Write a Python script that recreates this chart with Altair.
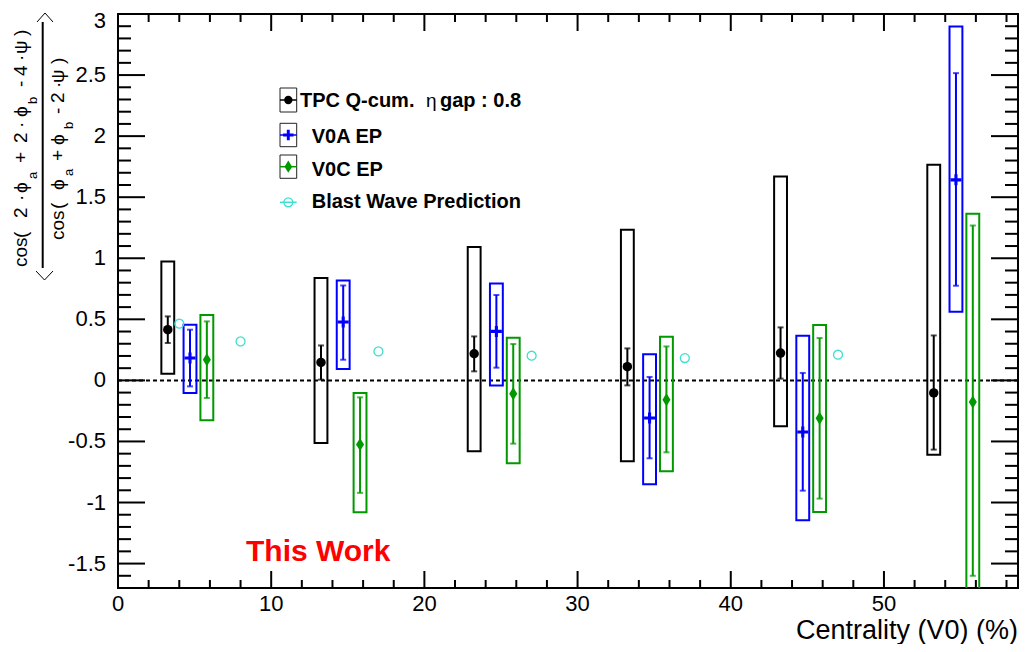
import altair as alt
import pandas as pd
import numpy as np

W, H = 900, 574
XMAX, YMIN, YMAX = 58.75, -1.7, 3.0
FONT = "Liberation Sans"

# ---------------- data ----------------
tpc_x = [3.25, 13.25, 23.25, 33.25, 43.25, 53.25]
tpc_y = [0.415, 0.147, 0.218, 0.112, 0.224, -0.103]
tpc_stat_lo = [0.306, 0.006, 0.074, -0.041, 0.014, -0.567]
tpc_stat_hi = [0.524, 0.286, 0.360, 0.262, 0.434, 0.368]
tpc_sys_lo = [0.055, -0.512, -0.581, -0.663, -0.376, -0.608]
tpc_sys_hi = [0.974, 0.838, 1.092, 1.233, 1.669, 1.765]

v0a_x = [4.7, 14.7, 24.7, 34.7, 44.7, 54.7]
v0a_y = [0.183, 0.478, 0.401, -0.308, -0.422, 1.642]
v0a_stat_lo = [-0.049, 0.169, 0.104, -0.638, -0.903, 0.775]
v0a_stat_hi = [0.415, 0.777, 0.699, 0.028, 0.061, 2.516]
v0a_sys_lo = [-0.103, 0.093, -0.041, -0.851, -1.146, 0.562]
v0a_sys_hi = [0.456, 0.818, 0.794, 0.213, 0.366, 2.897]

v0c_x = [5.8, 15.8, 25.8, 35.8, 45.8, 55.8]
v0c_y = [0.169, -0.526, -0.109, -0.158, -0.311, -0.177]
v0c_stat_lo = [-0.144, -0.921, -0.518, -0.589, -0.968, -1.60]
v0c_stat_hi = [0.483, -0.139, 0.298, 0.278, 0.347, 1.268]
v0c_sys_lo = [-0.327, -1.080, -0.679, -0.745, -1.077, -1.75]
v0c_sys_hi = [0.535, -0.103, 0.349, 0.358, 0.453, 1.364]

bw_x = [4, 8, 17, 27, 37, 47]
bw_y = [0.464, 0.319, 0.237, 0.202, 0.183, 0.210]

y_major = [-1.5, -1.0, -0.5, 0.0, 0.5, 1.0, 1.5, 2.0, 2.5, 3.0]
y_labels = ["-1.5", "-1", "-0.5", "0", "0.5", "1", "1.5", "2", "2.5", "3"]
y_minor = [round(v, 1) for v in np.arange(-1.7, 3.001, 0.1)
           if all(abs(round(v, 1) - m) > 1e-6 for m in y_major)]
x_major = [0, 10, 20, 30, 40, 50]
x_labels = ["0", "10", "20", "30", "40", "50"]
x_minor = [v for v in range(2, 59, 2) if v % 10 != 0]

HALF = 0.42  # half width of systematic boxes (x units)

xs = alt.Scale(domain=[0, XMAX], nice=False, zero=False)
ys = alt.Scale(domain=[YMIN, YMAX], nice=False, zero=False)

BLACK, BLUE, GREEN, CYAN, RED = "#000000", "#0000ff", "#009900", "#3ddfd0", "#ff0000"

one = pd.DataFrame({"k": [0]})


def series_df(x, y, slo, shi, blo, bhi):
    return pd.DataFrame({
        "x": x, "y": y, "slo": slo, "shi": shi,
        "xl": [v - HALF for v in x], "xr": [v + HALF for v in x],
        "blo": blo, "bhi": bhi,
    })


DIAMOND = "M0,-1L0.62,0L0,1L-0.62,0Z"
PLUS = ("M-1,-0.28L-0.28,-0.28L-0.28,-1L0.28,-1L0.28,-0.28L1,-0.28L1,0.28"
        "L0.28,0.28L0.28,1L-0.28,1L-0.28,0.28L-1,0.28Z")

layers = []


def series_layers(df, color, shape, size, box_w=2, err_w=2):
    base = alt.Chart(df)
    out = []
    out.append(base.mark_rect(fillOpacity=0, stroke=color, strokeWidth=box_w, clip=True).encode(
        x=alt.X("xl:Q", scale=xs, axis=None), x2="xr:Q",
        y=alt.Y("blo:Q", scale=ys, axis=None), y2="bhi:Q"))
    out.append(base.mark_rule(color=color, strokeWidth=err_w, clip=True).encode(
        x=alt.X("x:Q", scale=xs, axis=None),
        y=alt.Y("slo:Q", scale=ys, axis=None), y2="shi:Q"))
    for f in ["slo", "shi"]:
        out.append(base.mark_tick(color=color, orient="horizontal", size=6, thickness=2, clip=True).encode(
            x=alt.X("x:Q", scale=xs, axis=None),
            y=alt.Y(f + ":Q", scale=ys, axis=None)))
    out.append(base.mark_point(shape=shape, filled=True, color=color, size=size, opacity=1).encode(
        x=alt.X("x:Q", scale=xs, axis=None),
        y=alt.Y("y:Q", scale=ys, axis=None)))
    return out


# ---------------- ticks & tick labels ----------------
ymaj = pd.DataFrame({"v": y_major, "lab": y_labels})
ymin_ = pd.DataFrame({"v": y_minor})
xmaj = pd.DataFrame({"v": x_major, "lab": x_labels})
xmin_ = pd.DataFrame({"v": x_minor})

for x0, x1 in [(0, 27), (W - 27, W)]:
    layers.append(alt.Chart(ymaj).mark_rule(color=BLACK, strokeWidth=2).encode(
        y=alt.Y("v:Q", scale=ys, axis=None), x=alt.value(x0), x2=alt.value(x1)))
for x0, x1 in [(0, 13), (W - 13, W)]:
    layers.append(alt.Chart(ymin_).mark_rule(color=BLACK, strokeWidth=2).encode(
        y=alt.Y("v:Q", scale=ys, axis=None), x=alt.value(x0), x2=alt.value(x1)))
for y0, y1 in [(H, H - 17), (0, 17)]:
    layers.append(alt.Chart(xmaj).mark_rule(color=BLACK, strokeWidth=2).encode(
        x=alt.X("v:Q", scale=xs, axis=None), y=alt.value(y0), y2=alt.value(y1)))
for y0, y1 in [(H, H - 8), (0, 8)]:
    layers.append(alt.Chart(xmin_).mark_rule(color=BLACK, strokeWidth=2).encode(
        x=alt.X("v:Q", scale=xs, axis=None), y=alt.value(y0), y2=alt.value(y1)))

# y tick labels (the top one placed by its baseline so it stays inside the page)
layers.append(alt.Chart(ymaj[ymaj["v"] < 3]).mark_text(align="right", baseline="middle", font=FONT,
                                                       fontSize=22, color=BLACK).encode(
    y=alt.Y("v:Q", scale=ys, axis=None), x=alt.value(-12), text="lab:N"))
layers.append(alt.Chart(ymaj[ymaj["v"] >= 3]).mark_text(align="right", baseline="alphabetic", font=FONT,
                                                        fontSize=22, color=BLACK, dy=14).encode(
    y=alt.Y("v:Q", scale=ys, axis=None), x=alt.value(-12), text="lab:N"))
layers.append(alt.Chart(xmaj).mark_text(align="center", baseline="middle", font=FONT,
                                        fontSize=22, color=BLACK).encode(
    x=alt.X("v:Q", scale=xs, axis=None), y=alt.value(H + 15.5), text="lab:N"))

# zero dashed line
layers.append(alt.Chart(pd.DataFrame({"v": [0.0]})).mark_rule(
    color=BLACK, strokeWidth=2, strokeDash=[4, 3]).encode(
    y=alt.Y("v:Q", scale=ys, axis=None), x=alt.value(0), x2=alt.value(W)))

# ---------------- data series ----------------
layers += series_layers(series_df(tpc_x, tpc_y, tpc_stat_lo, tpc_stat_hi, tpc_sys_lo, tpc_sys_hi),
                        BLACK, "circle", 90)
layers += series_layers(series_df(v0a_x, v0a_y, v0a_stat_lo, v0a_stat_hi, v0a_sys_lo, v0a_sys_hi),
                        BLUE, PLUS, 121)
layers += series_layers(series_df(v0c_x, v0c_y, v0c_stat_lo, v0c_stat_hi, v0c_sys_lo, v0c_sys_hi),
                        GREEN, DIAMOND, 169)

layers.append(alt.Chart(pd.DataFrame({"x": bw_x, "y": bw_y})).mark_point(
    shape="circle", filled=False, color=CYAN, strokeWidth=1.3, size=80, opacity=1).encode(
    x=alt.X("x:Q", scale=xs, axis=None), y=alt.Y("y:Q", scale=ys, axis=None)))


# ---------------- legend ----------------
def txt(text, x, y, size=20, weight="bold", color=BLACK, align="left", angle=None,
        baseline="alphabetic", font=FONT):
    kw = dict(text=text, align=align, baseline=baseline, font=font, fontSize=size,
              fontWeight=weight, color=color)
    if angle is not None:
        kw["angle"] = angle
    return alt.Chart(one).mark_text(**kw).encode(x=alt.value(x), y=alt.value(y))


LX0, LX1, LXC = 162, 178.7, 170.3
legend_rows = [  # (box top, box bottom, marker y)
    (74, 98, 86), (109.3, 132.7, 121), (141, 164.3, 152.7), (None, None, 188.3)]
leg_colors = [BLACK, BLUE, GREEN, CYAN]
leg_shapes = ["circle", PLUS, DIAMOND, "circle"]
leg_sizes = [70, 110, 150, 80]
for (t, b, m), c, s, z in zip(legend_rows, leg_colors, leg_shapes, leg_sizes):
    if t is not None:
        layers.append(alt.Chart(one).mark_rect(fillOpacity=0, stroke="#222222", strokeWidth=1).encode(
            x=alt.value(LX0), x2=alt.value(LX1), y=alt.value(t), y2=alt.value(b)))
    layers.append(alt.Chart(one).mark_rule(color=c, strokeWidth=1.5).encode(
        x=alt.value(LX0), x2=alt.value(LX1), y=alt.value(m)))
    filled = c != CYAN
    layers.append(alt.Chart(one).mark_point(shape=s, filled=filled, color=c, size=z, opacity=1,
                                            strokeWidth=1.3).encode(
        x=alt.value(LXC), y=alt.value(m)))

layers.append(txt("TPC Q-cum.", 182, 93))
layers.append(txt("η", 308, 93, size=19, weight="normal"))
layers.append(txt("gap : 0.8", 322, 93))
layers.append(txt("V0A EP", 193.7, 129.3))
layers.append(txt("V0C EP", 193.7, 161.7))
layers.append(txt("Blast Wave Prediction", 193.7, 194.3))

# "This Work"
layers.append(txt("This Work", 128, 547, size=30, color=RED))

# x title
layers.append(txt("Centrality (V0) (%)", W, 625, size=27, weight="normal", align="right"))

# ---------------- y title (rotated fraction, ROOT TLatex style) ----------------
OX, OY = 118, 14  # image pixel -> plot pixel offset
NB, NS, DB, DS = 27, 37, 64, 73  # baselines (image x) for numerator / subscripts / denominator
num_tok = ["cos", "(", "2", "·", "ϕ", "+", "2", "·", "ϕ", "-", "4", "·", "ψ", ")"]
num_pos = [267, 238, 218, 201, 193, 163, 143, 128, 117, 87, 76, 61, 54, 36]
num_sub = ["a", "b"]
num_sub_pos = [179, 104]
den_tok = ["cos", "(", "ϕ", "+", "ϕ", "-", "2", "·", "ψ", ")"]
den_pos = [240, 209, 190, 161, 145, 114, 103, 88, 83, 64]
den_sub = ["a", "b"]
den_sub_pos = [176, 129]

tok = pd.DataFrame({
    "t": num_tok + den_tok,
    "px": [NB - OX] * len(num_tok) + [DB - OX] * len(den_tok),
    "py": [p - OY for p in num_pos + den_pos],
})
sub = pd.DataFrame({
    "t": num_sub + den_sub,
    "px": [NS - OX] * 2 + [DS - OX] * 2,
    "py": [p - OY for p in num_sub_pos + den_sub_pos],
})
layers.append(alt.Chart(tok).mark_text(angle=270, align="left", baseline="alphabetic",
                                       font=FONT, fontSize=19, color=BLACK).encode(
    x=alt.X("px:Q", scale=None, axis=None), y=alt.Y("py:Q", scale=None, axis=None), text="t:N"))
layers.append(alt.Chart(sub).mark_text(angle=270, align="left", baseline="alphabetic",
                                       font=FONT, fontSize=13, color=BLACK).encode(
    x=alt.X("px:Q", scale=None, axis=None), y=alt.Y("py:Q", scale=None, axis=None), text="t:N"))
# fraction bar
layers.append(alt.Chart(one).mark_rule(color=BLACK, strokeWidth=2).encode(
    x=alt.value(42.7 - OX), y=alt.value(22 - OY), y2=alt.value(268 - OY)))
# angle brackets drawn as thin chevrons
br = pd.DataFrame({
    "g": ["b", "b", "b", "t", "t", "t"],
    "o": [0, 1, 2, 0, 1, 2],
    "px": [p - OX for p in [36, 44.5, 53, 37, 45, 53]],
    "py": [p - OY for p in [271, 280, 271, 22, 13, 22]],
})
layers.append(alt.Chart(br).mark_line(color=BLACK, strokeWidth=1).encode(
    x=alt.X("px:Q", scale=None, axis=None), y=alt.Y("py:Q", scale=None, axis=None),
    detail="g:N", order="o:Q"))

chart = alt.layer(*layers).properties(
    width=W, height=H,
    autosize=alt.AutoSizeParams(type="none"),
    padding={"left": 110, "top": 6, "right": 5, "bottom": 56},
    background="white",
).configure_view(stroke=BLACK, strokeWidth=2)

chart.save("out.html", embed_options={"renderer": "svg", "actions": False})
